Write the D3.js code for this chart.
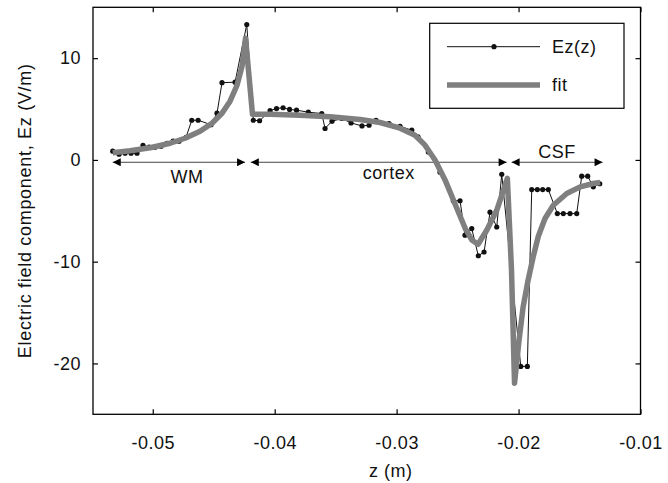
<!DOCTYPE html>
<html>
<head>
<meta charset="utf-8">
<script src="https://cdn.jsdelivr.net/npm/d3@7"></script>
<style>
  html, body { margin: 0; padding: 0; background: #fff; }
  svg { display: block; font-family: "Liberation Sans", Arial, Helvetica, sans-serif; }
</style>
</head>
<body>
<svg id="chart" width="668" height="483"></svg>
<script>
// ---- data ----
const ezZ = [-0.05328,-0.05276,-0.05227,-0.05178,-0.05129,-0.05080,-0.05030,-0.04981,-0.04932,-0.04883,-0.04833,-0.04784,-0.04727,-0.04680,-0.04628,-0.04522,-0.04473,-0.04432,-0.04325,-0.04229,
  -0.04175,-0.04124,-0.04038,-0.03985,-0.03931,-0.03878,-0.03821,-0.03724,-0.03614,-0.03587,-0.03530,-0.03450,-0.03374,-0.03284,-0.03226,-0.03169,-0.03062,-0.02972,-0.02876,-0.02825,
  -0.02740,-0.02644,-0.02535,-0.02480,-0.02439,-0.02384,-0.02330,-0.02283,-0.02234,-0.02179,-0.02138,
  -0.01982,-0.01928,-0.01892,-0.01846,-0.01802,-0.01756,-0.01682,-0.01633,-0.01578,-0.01523,-0.01482,-0.01433,-0.01387,-0.01334];
const ezVal = [0.86,0.56,0.66,0.66,0.66,1.44,1.25,1.25,1.35,1.64,1.84,1.84,2.23,3.90,3.90,3.46,4.59,7.59,7.64,13.31,
  3.90,3.85,4.84,5.05,5.13,4.96,4.89,4.69,4.56,3.09,3.81,4.07,3.64,3.34,3.41,3.90,3.58,3.31,2.92,2.28,
  0.79,-1.20,-4.01,-4.01,-7.40,-6.75,-9.42,-9.05,-5.14,-6.59,-1.41,
  -20.29,-20.29,-2.91,-2.91,-2.91,-2.91,-5.27,-5.27,-5.27,-5.27,-1.60,-1.60,-2.64,-2.34];

const fitZ = [-0.05328,-0.05186,-0.05022,-0.04858,-0.04735,-0.04612,-0.04514,-0.04432,-0.04366,-0.04309,-0.04268,-0.04239,
  -0.04182,-0.04038,-0.03792,-0.03546,-0.03300,-0.03136,-0.02972,-0.02849,-0.02767,-0.02684,-0.02602,-0.02520,-0.02438,-0.02381,-0.02332,-0.02261,-0.02179,-0.02111,-0.02092,
  -0.02058,-0.02033,-0.01996,-0.01963,-0.01922,-0.01881,-0.01838,-0.01783,-0.01715,-0.01605,-0.01495,-0.01387,-0.01331];
const fitVal = [0.71,0.90,1.20,1.64,2.13,2.82,3.61,4.59,5.77,7.34,9.21,11.97,
  4.49,4.49,4.39,4.25,3.98,3.68,3.12,2.43,1.45,-0.03,-1.99,-4.36,-6.72,-7.90,-8.29,-6.91,-4.95,-2.49,-1.80,
  -10.79,-21.95,-17.73,-14.48,-11.83,-9.57,-7.50,-5.76,-4.45,-3.30,-2.65,-2.32,-2.22];

const regionNames = ["WM", "cortex", "CSF"];
const regionFrom  = [-0.05328, -0.04196, -0.02057];
const regionTo    = [-0.04243, -0.02098, -0.01311];

const xTickValues = [-0.05, -0.04, -0.03, -0.02, -0.01];
const xTickLabels = ["-0.05", "-0.04", "-0.03", "-0.02", "-0.01"];
const yTickValues = [-20, -10, 0, 10];
const yTickLabels = ["-20", "-10", "0", "10"];

const legendLabels = ["Ez(z)", "fit"];
const xTitle = "z (m)";
const yTitle = "Electric field component, Ez (V/m)";

// ---- layout ----
const svg = d3.select("#chart");
const L = 93, R = 640.5, T = 7.3, B = 414.3;
const x = d3.scaleLinear().domain([-0.0549, -0.01]).range([L, R]);
const y = d3.scaleLinear().domain([-25, 15]).range([B, T]);
const FS = 18;
const LS = "0.5px";

// axes
const fmtX = d => xTickLabels[xTickValues.indexOf(d)];
const fmtY = d => yTickLabels[yTickValues.indexOf(d)];

const gB = svg.append("g").attr("transform", `translate(0,${B})`)
  .call(d3.axisBottom(x).tickValues(xTickValues).tickFormat(fmtX).tickSize(-5).tickPadding(22).tickSizeOuter(0));
const gT = svg.append("g").attr("transform", `translate(0,${T})`)
  .call(d3.axisTop(x).tickValues(xTickValues).tickFormat("").tickSize(-5).tickSizeOuter(0));
const gLft = svg.append("g").attr("transform", `translate(${L},0)`)
  .call(d3.axisLeft(y).tickValues(yTickValues).tickFormat(fmtY).tickSize(-5).tickPadding(12).tickSizeOuter(0));
const gRt = svg.append("g").attr("transform", `translate(${R},0)`)
  .call(d3.axisRight(y).tickValues(yTickValues).tickFormat("").tickSize(-5).tickSizeOuter(0));
[gB, gT, gLft, gRt].forEach(g => {
  g.select(".domain").remove();
  g.selectAll(".tick line").attr("stroke", "#000").attr("stroke-width", 1.2);
  g.selectAll(".tick text").attr("fill", "#111").style("font-size", FS + "px")
    .style("letter-spacing", LS).style("font-family", "Liberation Sans, Arial, sans-serif");
});

// frame
svg.append("rect").attr("x", L).attr("y", T).attr("width", R - L).attr("height", B - T)
  .attr("fill", "none").attr("stroke", "#000").attr("stroke-width", 1.3);

// arrow markers
const defs = svg.append("defs");
defs.append("marker").attr("id", "arrEnd").attr("viewBox", "0 0 10 10").attr("refX", 10).attr("refY", 5)
  .attr("markerWidth", 9).attr("markerHeight", 8).attr("markerUnits", "userSpaceOnUse").attr("orient", "auto")
  .append("path").attr("d", "M0,0 L10,5 L0,10 Z").attr("fill", "#000");
defs.append("marker").attr("id", "arrStart").attr("viewBox", "0 0 10 10").attr("refX", 0).attr("refY", 5)
  .attr("markerWidth", 9).attr("markerHeight", 8).attr("markerUnits", "userSpaceOnUse").attr("orient", "auto")
  .append("path").attr("d", "M10,0 L0,5 L10,10 Z").attr("fill", "#000");

const arrowY = y(-0.23);
regionNames.forEach((name, i) => {
  svg.append("line").attr("x1", x(regionFrom[i])).attr("x2", x(regionTo[i]))
    .attr("y1", arrowY).attr("y2", arrowY)
    .attr("stroke", "#444").attr("stroke-width", 1)
    .attr("marker-start", "url(#arrStart)").attr("marker-end", "url(#arrEnd)");
});
// region labels
const labelDX = [8, 10, 0];
const labelDY = [21, 17, -4];
regionNames.forEach((name, i) => {
  const cx = (x(regionFrom[i]) + x(regionTo[i])) / 2 + labelDX[i];
  svg.append("text").attr("x", cx).attr("y", arrowY + labelDY[i])
    .attr("text-anchor", "middle").attr("fill", "#111").style("font-size", FS + "px")
    .style("letter-spacing", LS).text(name);
});

// Ez(z) data line with dots
const ezData = ezZ.map((z, i) => [z, ezVal[i]]);
const fitData = fitZ.map((z, i) => [z, fitVal[i]]);
const line = d3.line().x(d => x(d[0])).y(d => y(d[1]));

svg.append("path").datum(ezData).attr("d", line).attr("fill", "none").attr("stroke", "#111").attr("stroke-width", 1);
svg.selectAll("circle.ez").data(ezData).enter().append("circle").attr("class", "ez")
  .attr("cx", d => x(d[0])).attr("cy", d => y(d[1])).attr("r", 2.6).attr("fill", "#111");

// fit
svg.append("path").datum(fitData).attr("d", line).attr("fill", "none")
  .attr("stroke", "#7f7f7f").attr("stroke-width", 5.5).attr("stroke-linejoin", "round");

// legend
const lg = svg.append("g");
lg.append("rect").attr("x", 429.7).attr("y", 23.3).attr("width", 194.3).attr("height", 85)
  .attr("fill", "#fff").attr("stroke", "#000").attr("stroke-width", 1.2);
lg.append("line").attr("x1", 447).attr("x2", 540).attr("y1", 46.7).attr("y2", 46.7).attr("stroke", "#111").attr("stroke-width", 1);
lg.append("circle").attr("cx", 494).attr("cy", 46.7).attr("r", 2.6).attr("fill", "#111");
lg.append("line").attr("x1", 447).attr("x2", 540).attr("y1", 85).attr("y2", 85).attr("stroke", "#7f7f7f").attr("stroke-width", 5.5);
lg.append("text").attr("x", 552).attr("y", 53).attr("fill", "#111").style("font-size", FS + "px")
  .style("letter-spacing", LS).text(legendLabels[0]);
lg.append("text").attr("x", 552).attr("y", 91).attr("fill", "#111").style("font-size", FS + "px")
  .style("letter-spacing", LS).text(legendLabels[1]);

// axis titles
svg.append("text").attr("x", (L + R) / 2 + 24).attr("y", 477).attr("text-anchor", "middle")
  .attr("fill", "#111").style("font-size", FS + "px").style("letter-spacing", LS).text(xTitle);
svg.append("text").attr("transform", `translate(31,${(T + B) / 2}) rotate(-90)`).attr("text-anchor", "middle")
  .attr("fill", "#111").style("font-size", FS + "px").style("letter-spacing", "0.7px").text(yTitle);
</script>
</body>
</html>
